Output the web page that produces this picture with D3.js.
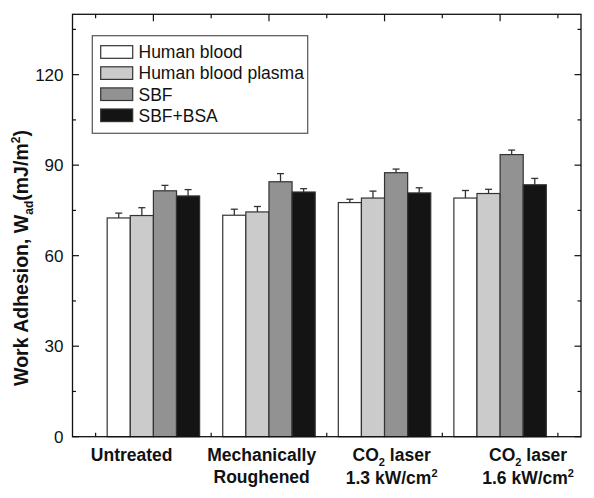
<!DOCTYPE html>
<html><head><meta charset="utf-8">
<script src="https://cdn.jsdelivr.net/npm/d3@7"></script>
<style>body{margin:0;background:#fff}svg{display:block}text{font-family:"Liberation Sans",Arial,Helvetica,sans-serif}</style>
</head><body>
<svg id="c" width="594" height="498"></svg>
<script>
const categories = ["Untreated", "Mechanically Roughened", "CO2 laser 1.3 kW/cm2", "CO2 laser 1.6 kW/cm2"];
const series = ["Human blood", "Human blood plasma", "SBF", "SBF+BSA"];
const humanBlood       = [72.5, 73.4, 77.6, 79.1];
const humanBloodPlasma = [73.3, 74.5, 79.1, 80.6];
const sbf              = [81.5, 84.5, 87.5, 93.5];
const sbfBsa           = [79.8, 81.1, 80.8, 83.5];
const errHumanBlood       = [1.6, 2.0, 1.1, 2.5];
const errHumanBloodPlasma = [2.6, 1.8, 2.3, 1.4];
const errSbf              = [1.8, 2.7, 1.2, 1.5];
const errSbfBsa           = [2.1, 1.1, 1.7, 2.1];
const yTicks = [0, 30, 60, 90, 120];
const yMinorTicks = [15, 45, 75, 105, 135];
const colors = ["#ffffff", "#cbcbcb", "#929292", "#141414"];

const values = [humanBlood, humanBloodPlasma, sbf, sbfBsa];
const errors = [errHumanBlood, errHumanBloodPlasma, errSbf, errSbfBsa];

const svg = d3.select("#c");
const L = 72.5, R = 581, T = 14.3, B = 436.7;
const x = d3.scaleLinear().domain([-0.2, 4.2]).range([L, R]);
const y = d3.scaleLinear().domain([0, 140]).range([B, T]);
const barW = 0.2;

// bars
const g = svg.append("g");
series.forEach((s, j) => {
  values[j].forEach((v, i) => {
    const x0 = x(i + 0.1 + j * barW), x1 = x(i + 0.1 + (j + 1) * barW);
    const xc = (x0 + x1) / 2;
    const e = errors[j][i];
    g.append("line").attr("x1", xc).attr("x2", xc).attr("y1", y(v)).attr("y2", y(v + e))
      .attr("stroke", "#333").attr("stroke-width", 1.3);
    g.append("line").attr("x1", xc - 3.5).attr("x2", xc + 3.5).attr("y1", y(v + e)).attr("y2", y(v + e))
      .attr("stroke", "#333").attr("stroke-width", 1.3);
    g.append("rect").attr("x", x0).attr("y", y(v)).attr("width", x1 - x0).attr("height", y(0) - y(v))
      .attr("fill", colors[j]).attr("stroke", "#333").attr("stroke-width", 1.2);
  });
});

// frame
svg.append("rect").attr("x", L).attr("y", T).attr("width", R - L).attr("height", B - T)
  .attr("fill", "none").attr("stroke", "#111").attr("stroke-width", 1.3);

// ticks (inward)
const ax = svg.append("g").attr("stroke", "#111").attr("stroke-width", 1.2);
yTicks.forEach(t => {
  ax.append("line").attr("x1", L).attr("x2", L + 6.5).attr("y1", y(t)).attr("y2", y(t));
  ax.append("line").attr("x1", R).attr("x2", R - 6.5).attr("y1", y(t)).attr("y2", y(t));
});
yMinorTicks.forEach(t => {
  ax.append("line").attr("x1", L).attr("x2", L + 3.5).attr("y1", y(t)).attr("y2", y(t));
  ax.append("line").attr("x1", R).attr("x2", R - 3.5).attr("y1", y(t)).attr("y2", y(t));
});
d3.range(0, 5).forEach(t => {
  ax.append("line").attr("x1", x(t)).attr("x2", x(t)).attr("y1", B).attr("y2", B - 4);
  ax.append("line").attr("x1", x(t)).attr("x2", x(t)).attr("y1", T).attr("y2", T + 4);
});
d3.range(0.5, 4.5, 1).forEach(t => {
  ax.append("line").attr("x1", x(t)).attr("x2", x(t)).attr("y1", T).attr("y2", T + 7);
});

// y tick labels
svg.append("g").selectAll("text").data(yTicks).join("text")
  .attr("x", L - 9).attr("y", d => y(d)).attr("dy", "0.35em")
  .attr("text-anchor", "end").attr("font-size", 17).attr("fill", "#111").text(d => d);

// y label
const yl = svg.append("text").attr("transform", `translate(28,258) rotate(-90)`)
  .attr("text-anchor", "middle").attr("font-size", 19.5).attr("font-weight", "bold").attr("fill", "#111");
yl.append("tspan").text("Work Adhesion, W");
yl.append("tspan").attr("font-size", 12).attr("dy", 5).text("ad");
yl.append("tspan").attr("dy", -5).text("(mJ/m");
yl.append("tspan").attr("font-size", 12).attr("dy", -8).text("2");
yl.append("tspan").attr("dy", 8).text(")");

// x labels
const labelShift = [-21.7, -7.3, 7.1, 28];
const xl = svg.append("g").attr("font-size", 17.5).attr("font-weight", "bold").attr("fill", "#111").attr("text-anchor", "middle");
function lab(i, yy, parts) {
  const t = xl.append("text").attr("x", x(i + 0.5) + labelShift[i]).attr("y", yy);
  parts.forEach(p => {
    const ts = t.append("tspan").text(p.t);
    if (p.sub) ts.attr("font-size", 11).attr("dy", 4.5);
    if (p.sup) ts.attr("font-size", 11).attr("dy", -7);
    if (p.back) ts.attr("dy", p.back);
  });
}
lab(0, 461, [{t: "Untreated"}]);
lab(1, 461, [{t: "Mechanically"}]);
lab(1, 483, [{t: "Roughened"}]);
[2, 3].forEach(i => {
  lab(i, 461, [{t: "CO"}, {t: "2", sub: true}, {t: " laser", back: -4.5}]);
});
lab(2, 484, [{t: "1.3 kW/cm"}, {t: "2", sup: true}]);
lab(3, 484, [{t: "1.6 kW/cm"}, {t: "2", sup: true}]);

// legend
const lg = svg.append("g");
lg.append("rect").attr("x", 92.3).attr("y", 35.7).attr("width", 215.4).attr("height", 97.6)
  .attr("fill", "#fff").attr("stroke", "#555").attr("stroke-width", 1.2);
series.forEach((s, j) => {
  const cy = 52 + j * 21.1;
  lg.append("rect").attr("x", 100.7).attr("y", cy - 6.3).attr("width", 32).attr("height", 12.6)
    .attr("fill", colors[j]).attr("stroke", "#333").attr("stroke-width", 1.2);
  lg.append("text").attr("x", 138.5).attr("y", cy).attr("dy", "0.36em").attr("font-size", 17.5)
    .attr("fill", "#111").text(s);
});
</script>
</body></html>
